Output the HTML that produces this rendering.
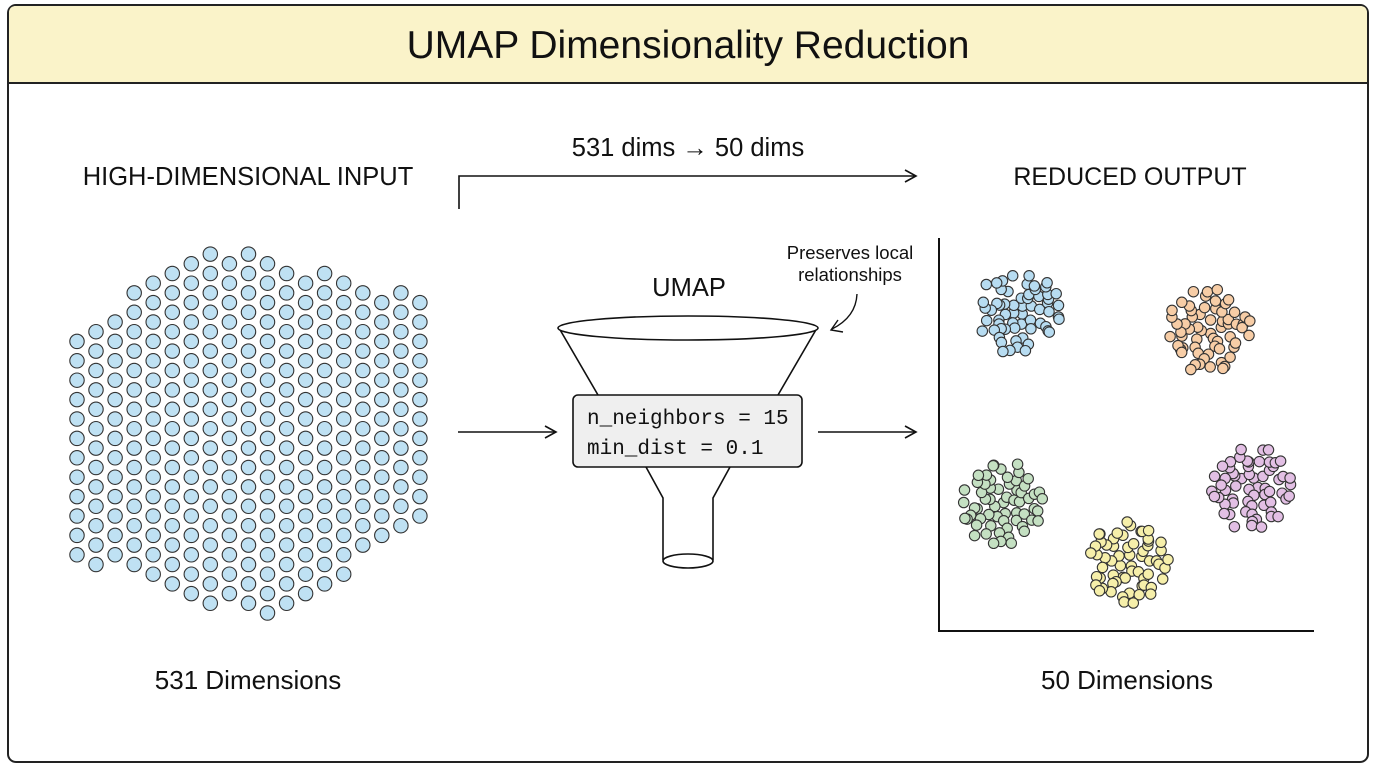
<!DOCTYPE html>
<html><head><meta charset="utf-8"><style>
html,body{margin:0;padding:0;background:#fff;width:1376px;height:768px;overflow:hidden}
svg{display:block}
text{font-family:"Liberation Sans",sans-serif;fill:#111}
</style></head><body>
<svg id="s" width="1376" height="768" viewBox="0 0 1376 768" xmlns="http://www.w3.org/2000/svg">
<defs>
<marker id="ah" markerWidth="14" markerHeight="14" refX="12" refY="7" orient="auto" markerUnits="userSpaceOnUse">
<path d="M1,1 L12,7 L1,13" fill="none" stroke="#111" stroke-width="1.6"/>
</marker>
</defs>
<rect x="8" y="5" width="1360" height="757" rx="8" fill="#fff" stroke="#222" stroke-width="2"/>
<path d="M9,83 L9,13 Q9,6 16,6 L1360,6 Q1367,6 1367,13 L1367,83 Z" fill="#faf3c9"/>
<line x1="8" y1="83" x2="1368" y2="83" stroke="#222" stroke-width="2"/>
<text x="688" y="58" font-size="39" text-anchor="middle">UMAP Dimensionality Reduction</text>

<text x="248" y="185" font-size="25.5" text-anchor="middle">HIGH-DIMENSIONAL INPUT</text>
<text x="1130" y="185" font-size="25" text-anchor="middle">REDUCED OUTPUT</text>
<text x="688" y="156" font-size="25.5" text-anchor="middle">531 dims → 50 dims</text>
<path d="M459,209 L459,176 L916,176" fill="none" stroke="#111" stroke-width="1.6" marker-end="url(#ah)"/>
<line x1="458" y1="432" x2="556" y2="432" stroke="#111" stroke-width="1.6" marker-end="url(#ah)"/>
<line x1="818" y1="432" x2="916" y2="432" stroke="#111" stroke-width="1.6" marker-end="url(#ah)"/>

<text x="689" y="296" font-size="25.5" text-anchor="middle">UMAP</text>
<text x="850" y="259" font-size="18.5" text-anchor="middle">Preserves local</text>
<text x="850" y="281" font-size="18.5" text-anchor="middle">relationships</text>
<path d="M857,294 Q856,317 832,329" fill="none" stroke="#111" stroke-width="1.4"/>
<path d="M838,320 L831,330 L843,332" fill="none" stroke="#111" stroke-width="1.4"/>

<path d="M559,328 L598,395 M817,328 L778,395" stroke="#111" stroke-width="1.6" fill="none"/>
<ellipse cx="688" cy="328" rx="130" ry="12" fill="#fff" stroke="#111" stroke-width="1.6"/>
<path d="M646,467 L663,498 L663,560 M730,467 L713,498 L713,560" stroke="#111" stroke-width="1.6" fill="none"/>
<ellipse cx="688" cy="561" rx="25" ry="7" fill="#fff" stroke="#111" stroke-width="1.6"/>
<rect x="573" y="395" width="229" height="72" rx="5" fill="#efefef" stroke="#111" stroke-width="1.6"/>
<text x="587" y="424" font-size="21" style="font-family:'Liberation Mono',monospace">n_neighbors = 15</text>
<text x="587" y="454" font-size="21" style="font-family:'Liberation Mono',monospace">min_dist = 0.1</text>

<path d="M939,238 L939,631 L1314,631" fill="none" stroke="#111" stroke-width="2"/>

<text x="248" y="689" font-size="26" text-anchor="middle">531 Dimensions</text>
<text x="1127" y="689" font-size="26" text-anchor="middle">50 Dimensions</text>
<g id="dots"></g>
</svg>
<script>
var g=document.getElementById('dots'),out='';
function c(x,y,r,f){out+='<circle cx="'+x.toFixed(1)+'" cy="'+y.toFixed(1)+'" r="'+r+'" fill="'+f+'" stroke="#333" stroke-width="1.1"/>';}
function topY(x){return x<215? 330+(x-77)*(245-330)/(215-77) : 245+(x-215)*(300-245)/(420-215);}
function botY(x){return x<272? 555+(x-77)*(625-555)/(272-77) : 625+(x-272)*(520-625)/(420-272);}
for(var i=0;i<19;i++){
  var x=77+i*19.05;
  var off=(i%2)*9.7;
  var t=topY(x)-3,b=botY(x)+3;
  for(var y=225+off;y<=640;y+=19.4){
    if(y>=t&&y<=b)c(x,y,7.2,'#bfe1f3');
  }
}
var s=12345;function rnd(){s|=0;s=s+0x6D2B79F5|0;var t=Math.imul(s^s>>>15,1|s);t=t+Math.imul(t^t>>>7,61|t)^t;return((t^t>>>14)>>>0)/4294967296;}
var cl=[[1020,312,'#b7dcf1'],[1208,330,'#f7cda6'],[1002,503,'#c4e0c2'],[1128,562,'#f6efaa'],[1252,487,'#e2bfe4']];
var N=62,ga=Math.PI*(3-Math.sqrt(5));
cl.forEach(function(k){
  for(var n=0;n<N;n++){
    var r=42*Math.sqrt((n+0.5)/N),a=n*ga+rnd()*0.6;
    var jx=(rnd()-0.5)*5,jy=(rnd()-0.5)*5;
    c(k[0]+Math.cos(a)*r+jx,k[1]+Math.sin(a)*r+jy,5.2,k[2]);
  }
});
g.innerHTML=out;
</script>
</body></html>
